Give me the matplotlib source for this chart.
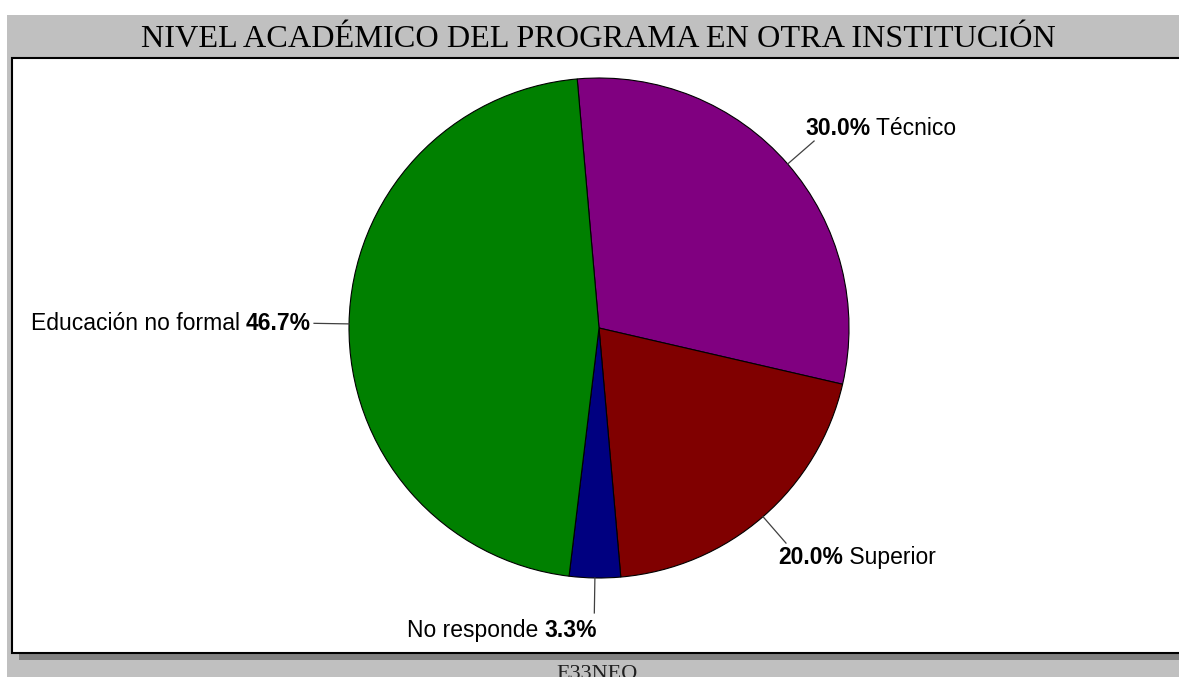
import numpy as np
import matplotlib.pyplot as plt
from matplotlib.patches import Rectangle

# Datos
categorias = ["Técnico", "Superior", "No responde", "Educación no formal"]
porcentajes = [30.0, 20.0, 3.3, 46.7]
colores = ["#800080", "#800000", "#000080", "#008000"]
titulo = "NIVEL ACADÉMICO DEL PROGRAMA EN OTRA INSTITUCIÓN"
pie_texto = "E33NEO"

W, H = 1179, 677
fig = plt.figure(figsize=(W / 100, H / 100), dpi=100)
fig.patch.set_facecolor("white")

# Fondo gris, sombra y panel blanco (coordenadas en pixeles)
fondo = fig.add_axes([0, 0, 1, 1])
fondo.set_xlim(0, W)
fondo.set_ylim(H, 0)
fondo.axis("off")
fondo.add_patch(Rectangle((7, 15), W, H, facecolor="#c0c0c0", edgecolor="none"))
fondo.add_patch(Rectangle((19, 65), W, 595, facecolor="#808080", edgecolor="none"))
fondo.add_patch(Rectangle((12, 58), W + 10, 595, facecolor="white",
                          edgecolor="black", linewidth=1.5))
fondo.text(598, 47, titulo, ha="center", va="baseline", fontsize=23.2,
           family="Liberation Serif", color="black")
fondo.text(597, 679, pie_texto, ha="center", va="baseline", fontsize=16,
           family="Liberation Serif", color="#202020")

# Torta
ax = fig.add_axes([349 / W, (H - 578) / H, 500 / W, 500 / H])
wedges, _ = ax.pie(porcentajes, colors=colores, startangle=95, counterclock=False,
                   wedgeprops=dict(edgecolor="black", linewidth=0.8))
ax.set_xlim(-1, 1)
ax.set_ylim(-1, 1)
ax.axis("off")

# lado del texto: 'der' = porcentaje primero, 'izq' = nombre primero
lados = ["der", "der", "izq", "izq"]
desplaz = [(-9, 13), (-8, -14), (3, -18), (-3, 0)]
fuente = dict(family="Liberation Sans", fontsize=16.5, color="black")

for w, nombre, pct, lado, (dx, dy) in zip(wedges, categorias, porcentajes, lados, desplaz):
    ang = np.deg2rad((w.theta1 + w.theta2) / 2)
    x0, y0 = np.cos(ang), np.sin(ang)
    x1, y1 = 1.14 * x0, 1.14 * y0
    ax.plot([x0, x1], [y0, y1], color="#404040", lw=0.9, clip_on=False)
    if lado == "der":
        t = ax.annotate(f"{pct:.1f}%", xy=(x1, y1), xytext=(dx, dy),
                        textcoords="offset pixels", ha="left", va="center",
                        fontweight="bold", annotation_clip=False, **fuente)
        ax.annotate(f" {nombre}", xy=(1, 0), xycoords=t, ha="left", va="bottom",
                    annotation_clip=False, **fuente)
    else:
        t = ax.annotate(f"{pct:.1f}%", xy=(x1, y1), xytext=(dx, dy),
                        textcoords="offset pixels", ha="right", va="center",
                        fontweight="bold", annotation_clip=False, **fuente)
        ax.annotate(f"{nombre} ", xy=(0, 0), xycoords=t, ha="right", va="bottom",
                    annotation_clip=False, **fuente)

fig.savefig("out.png", dpi=100)
